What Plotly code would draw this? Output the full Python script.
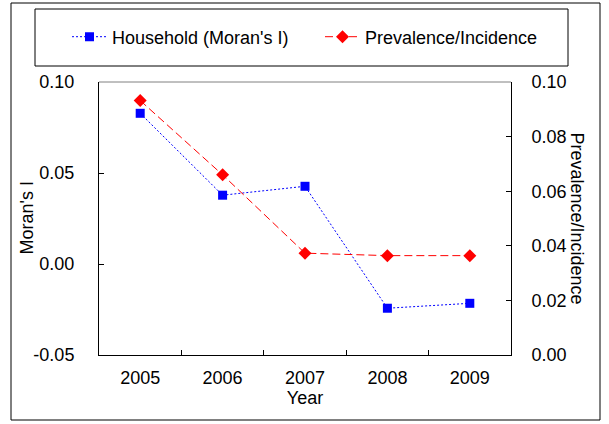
import plotly.graph_objects as go

years = ["2005", "2006", "2007", "2008", "2009"]
morans_i = [0.0828, 0.0378, 0.0427, -0.0243, -0.0216]
prevalence = [0.0932, 0.0660, 0.0373, 0.0364, 0.0364]

left_tickvals = [-0.05, 0.0, 0.05, 0.10]
left_ticktext = ["-0.05", "0.00", "0.05", "0.10"]
right_tickvals = [0.0, 0.02, 0.04, 0.06, 0.08, 0.10]
right_ticktext = ["0.00", "0.02", "0.04", "0.06", "0.08", "0.10"]

FONT = "Liberation Sans, Arial, sans-serif"
W, H = 609, 424
L, R, T, B = 99, 98, 82, 69
pw, ph = W - L - R, H - T - B

def px(x):
    return (x - L) / pw

def py(y):
    return (H - B - y) / ph

fig = go.Figure()
fig.add_trace(go.Scatter(
    x=years, y=morans_i, name="Household (Moran's I)", mode="lines+markers",
    line=dict(color="#0000FF", width=1, dash="2px,2px"),
    marker=dict(symbol="square", size=9, color="#0000FF"),
    yaxis="y",
))
fig.add_trace(go.Scatter(
    x=years, y=prevalence, name="Prevalence/Incidence", mode="lines+markers",
    line=dict(color="#FF0000", width=1, dash="8px,4px"),
    marker=dict(symbol="diamond", size=10, color="#FF0000"),
    yaxis="y2",
))

fig.update_layout(
    width=W, height=H,
    margin=dict(l=L, r=R, t=T, b=B, pad=0, autoexpand=False),
    paper_bgcolor="white", plot_bgcolor="white",
    font=dict(family=FONT, size=18, color="black"),
    showlegend=True,
    legend=dict(
        orientation="h", x=px(67), y=py(37), xanchor="left", yanchor="middle",
        bgcolor="rgba(0,0,0,0)", borderwidth=0, font=dict(size=18),
        entrywidth=203, entrywidthmode="pixels", itemwidth=35,
    ),
    xaxis=dict(
        type="category", showline=True, linecolor="black", linewidth=1,
        ticks="inside", ticklen=5, tickcolor="black", tickson="boundaries",
        showgrid=False, zeroline=False, ticklabelstandoff=6, automargin=False,
        title=dict(text="Year", standoff=2, font=dict(size=18)),
        range=[-0.5, 4.5],
    ),
    yaxis=dict(
        range=[-0.05, 0.10], tickvals=left_tickvals, ticktext=left_ticktext,
        showline=True, linecolor="black", linewidth=1,
        ticks="inside", ticklen=5, tickcolor="black", automargin=False,
        showgrid=False, zeroline=False, ticklabelstandoff=20,
    ),
    yaxis2=dict(
        range=[0, 0.10], tickvals=right_tickvals, ticktext=right_ticktext,
        overlaying="y", side="right", automargin=False,
        showline=True, linecolor="black", linewidth=1,
        ticks="inside", ticklen=5, tickcolor="black",
        showgrid=False, zeroline=False, ticklabelstandoff=16,
    ),
    shapes=[
        dict(type="rect", xref="paper", yref="paper", x0=px(11), x1=px(600),
             y0=py(420), y1=py(3), line=dict(color="black", width=1)),
        dict(type="rect", xref="paper", yref="paper", x0=px(35), x1=px(568),
             y0=py(66), y1=py(9), line=dict(color="black", width=1)),
        dict(type="line", xref="paper", yref="paper", x0=0, x1=1, y0=1, y1=1,
             line=dict(color="#808080", width=1)),
    ],
    annotations=[
        dict(text="Moran's I", xref="paper", yref="paper",
             x=px(26), y=0.5, textangle=-90, showarrow=False,
             xanchor="center", yanchor="middle", font=dict(size=18)),
        dict(text="Prevalence/Incidence", xref="paper", yref="paper",
             x=px(577), y=0.5, textangle=90, showarrow=False,
             xanchor="center", yanchor="middle", font=dict(size=18)),
    ],
)

fig.write_html("out.html", config={"displayModeBar": False},
               post_script="document.body.style.margin='0';")
